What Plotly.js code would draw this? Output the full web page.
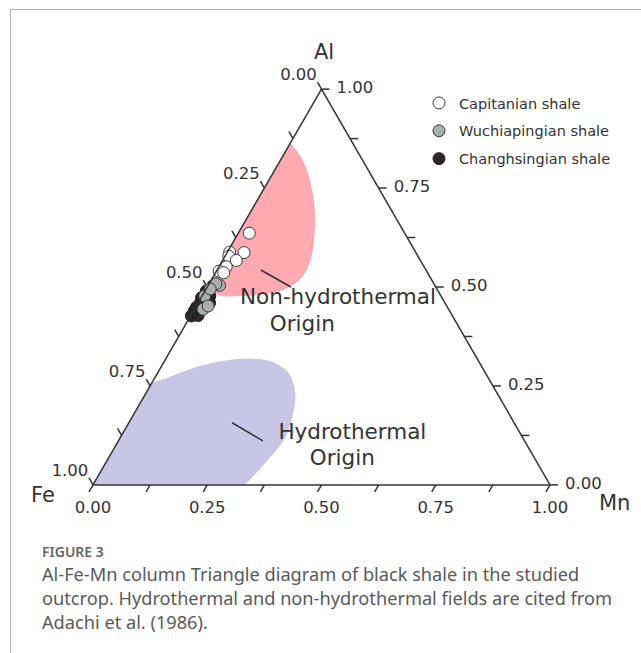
<!DOCTYPE html>
<html>
<head>
<meta charset="utf-8">
<script src="https://cdn.plot.ly/plotly-3.0.1.min.js"></script>
<style>
  html, body { margin: 0; padding: 0; background: #ffffff; }
  #chart { width: 641px; height: 653px; }
</style>
</head>
<body>
<div id="chart"></div>
<script>
// Al-Fe-Mn compositions (fractions) of the black shale samples
const capitanianAl = [0.636, 0.588, 0.578, 0.587, 0.567, 0.551, 0.540, 0.536];
const capitanianFe = [0.340, 0.407, 0.414, 0.376, 0.403, 0.433, 0.454, 0.446];
const capitanianMn = [0.024, 0.005, 0.008, 0.037, 0.030, 0.016, 0.006, 0.018];

const wuchiapingianAl = [0.504, 0.508, 0.477, 0.444, 0.452, 0.495];
const wuchiapingianFe = [0.471, 0.477, 0.517, 0.537, 0.522, 0.496];
const wuchiapingianMn = [0.025, 0.015, 0.006, 0.019, 0.026, 0.009];

const changhsingianAl = [0.503, 0.490, 0.477, 0.473, 0.456, 0.460, 0.439, 0.427, 0.428, 0.448, 0.467];
const changhsingianFe = [0.486, 0.507, 0.506, 0.526, 0.539, 0.515, 0.559, 0.571, 0.556, 0.550, 0.524];
const changhsingianMn = [0.011, 0.003, 0.017, 0.001, 0.005, 0.025, 0.002, 0.002, 0.016, 0.002, 0.009];

// Field outlines after Adachi et al. (1986)
const nonHydroAl = [0.864, 0.833, 0.796, 0.745, 0.682, 0.619, 0.563, 0.525, 0.498, 0.482, 0.477, 0.477, 0.487, 0.498];
const nonHydroFe = [0.136, 0.131, 0.134, 0.148, 0.173, 0.207, 0.244, 0.280, 0.324, 0.381, 0.440, 0.479, 0.496, 0.502];
const nonHydroMn = [0.000, 0.036, 0.070, 0.107, 0.145, 0.174, 0.193, 0.195, 0.178, 0.137, 0.083, 0.044, 0.017, 0.000];

const hydroAl = [0.000, 0.125, 0.253, 0.270, 0.293, 0.313, 0.319, 0.311, 0.285, 0.240, 0.189, 0.119, 0.058, 0.000];
const hydroFe = [1.000, 0.875, 0.747, 0.703, 0.641, 0.561, 0.497, 0.453, 0.431, 0.438, 0.466, 0.520, 0.592, 0.667];
const hydroMn = [0.000, 0.000, 0.000, 0.027, 0.066, 0.126, 0.184, 0.236, 0.284, 0.322, 0.345, 0.361, 0.350, 0.333];

// Leader lines and field names
const nonHydroLeaderAl = [0.543, 0.500];
const nonHydroLeaderFe = [0.361, 0.317];
const nonHydroLeaderMn = [0.096, 0.183];
const hydroLeaderAl = [0.157, 0.111];
const hydroLeaderFe = [0.617, 0.573];
const hydroLeaderMn = [0.226, 0.316];

const fieldLabels = ['Non-hydrothermal', 'Origin', 'Hydrothermal', 'Origin'];
const fieldLabelAl = [0.470, 0.402, 0.129, 0.063];
const fieldLabelFe = [0.229, 0.341, 0.368, 0.423];
const fieldLabelMn = [0.301, 0.257, 0.503, 0.514];

// Tick values along each edge (Fe on the left, Al on the right, Mn along the base)
const tickVals = [0, 0.125, 0.25, 0.375, 0.5, 0.625, 0.75, 0.875, 1];
const tickLabels = ['0.00', '', '0.25', '', '0.50', '', '0.75', '', '1.00'];

const FONT = 'DejaVu Sans, Arial, sans-serif';
const INK = '#333333';
const W = 641, H = 653;
const TICK_LEN = 8;
const px = v => v / W;
const py = v => 1 - v / H;

// Points on each edge where a tick value sits
const leftEdge = tickVals.map(v => ({ a: 1 - v, b: v, c: 0 }));     // Fe = v, Mn = 0
const rightEdge = tickVals.map(v => ({ a: v, b: 0, c: 1 - v }));    // Al = v, Fe = 0
const baseEdge = tickVals.map(v => ({ a: 0, b: 1 - v, c: v }));     // Mn = v, Al = 0

function tickTrace(pts, angle) {
  return {
    type: 'scatterternary', mode: 'markers',
    a: pts.map(p => p.a), b: pts.map(p => p.b), c: pts.map(p => p.c),
    marker: {
      symbol: 'line-ns', size: TICK_LEN / 1.4, angle: angle, standoff: TICK_LEN / 2,
      color: INK, line: { color: INK, width: 1.5 }
    },
    cliponaxis: false, showlegend: false, hoverinfo: 'skip'
  };
}

// Tick labels hang off an invisible marker on the edge; its size sets the label gap
function labelTrace(pts, gapSize, position) {
  return {
    type: 'scatterternary', mode: 'markers+text',
    a: pts.map(p => p.a), b: pts.map(p => p.b), c: pts.map(p => p.c),
    marker: { size: gapSize, color: 'rgba(0,0,0,0)', line: { width: 0 } },
    text: tickLabels, textposition: position,
    textfont: { family: FONT, size: 16.5, color: INK },
    cliponaxis: false, showlegend: false, hoverinfo: 'skip'
  };
}

const traces = [
  {
    type: 'scatterternary', mode: 'lines', name: 'Non-hydrothermal field',
    a: nonHydroAl, b: nonHydroFe, c: nonHydroMn,
    fill: 'toself', fillcolor: '#ffaab1',
    line: { width: 0, shape: 'spline', color: 'rgba(0,0,0,0)' },
    showlegend: false, hoverinfo: 'skip'
  },
  {
    type: 'scatterternary', mode: 'lines', name: 'Hydrothermal field',
    a: hydroAl, b: hydroFe, c: hydroMn,
    fill: 'toself', fillcolor: '#c9c5e4',
    line: { width: 0, shape: 'spline', color: 'rgba(0,0,0,0)' },
    showlegend: false, hoverinfo: 'skip'
  },
  {
    type: 'scatterternary', mode: 'lines',
    a: nonHydroLeaderAl, b: nonHydroLeaderFe, c: nonHydroLeaderMn,
    line: { color: INK, width: 1.5 }, showlegend: false, hoverinfo: 'skip'
  },
  {
    type: 'scatterternary', mode: 'lines',
    a: hydroLeaderAl, b: hydroLeaderFe, c: hydroLeaderMn,
    line: { color: INK, width: 1.5 }, showlegend: false, hoverinfo: 'skip'
  },
  {
    type: 'scatterternary', mode: 'text',
    a: fieldLabelAl, b: fieldLabelFe, c: fieldLabelMn,
    text: fieldLabels, textposition: 'middle center',
    textfont: { family: FONT, size: 21.5, color: INK },
    cliponaxis: false, showlegend: false, hoverinfo: 'skip'
  },
  // edge ticks: Fe ticks run parallel to the Al-Mn side, Al ticks are horizontal,
  // Mn ticks run parallel to the Al-Fe side
  tickTrace(leftEdge, 150),
  tickTrace(rightEdge, -90),
  tickTrace(baseEdge, 30),
  labelTrace(leftEdge, 5.8, 'top left'),
  labelTrace(rightEdge, 22.4, 'middle right'),
  labelTrace(baseEdge, 23.5, 'bottom center'),
  {
    type: 'scatterternary', mode: 'markers', name: 'Changhsingian shale',
    legendgroup: 'g3', legendrank: 3,
    a: changhsingianAl, b: changhsingianFe, c: changhsingianMn,
    marker: { size: 12, color: '#2b2627', line: { color: '#1e1b1c', width: 1 } },
    cliponaxis: false
  },
  {
    type: 'scatterternary', mode: 'markers', name: 'Wuchiapingian shale',
    legendgroup: 'g2', legendrank: 2,
    a: wuchiapingianAl, b: wuchiapingianFe, c: wuchiapingianMn,
    marker: { size: 12, color: '#a9aeae', line: { color: '#3a3a3a', width: 1 } },
    cliponaxis: false
  },
  {
    type: 'scatterternary', mode: 'markers', name: 'Capitanian shale',
    legendgroup: 'g1', legendrank: 1,
    a: capitanianAl, b: capitanianFe, c: capitanianMn,
    marker: { size: 12, color: '#ffffff', line: { color: '#3a3a3a', width: 1 } },
    cliponaxis: false
  }
];

function edgeAxis() {
  return {
    title: { text: '' },
    showgrid: false,
    showline: true, linecolor: INK, linewidth: 1.5,
    ticks: '', showticklabels: false,
    min: 0
  };
}

const captionFont = { family: 'Noto Sans, sans-serif', size: 18.2, color: '#595959' };
const titleFont = { family: FONT, size: 21, color: INK };

const layout = {
  width: W, height: H,
  margin: { l: 0, r: 0, t: 0, b: 0 },
  paper_bgcolor: '#ffffff',
  showlegend: true,
  ternary: {
    sum: 1,
    domain: { x: [px(93), px(550)], y: [py(485), py(89)] },
    bgcolor: 'rgba(0,0,0,0)',
    aaxis: edgeAxis(),
    baxis: edgeAxis(),
    caxis: edgeAxis()
  },
  legend: {
    x: px(419), y: py(87), xanchor: 'left', yanchor: 'top',
    traceorder: 'grouped', tracegroupgap: 6,
    bgcolor: 'rgba(0,0,0,0)',
    font: { family: FONT, size: 14.5, color: INK }
  },
  annotations: [
    { text: 'Al', x: px(324), y: py(52), xref: 'paper', yref: 'paper', xanchor: 'center', yanchor: 'middle', showarrow: false, font: titleFont },
    { text: 'Fe', x: px(43), y: py(495), xref: 'paper', yref: 'paper', xanchor: 'center', yanchor: 'middle', showarrow: false, font: titleFont },
    { text: 'Mn', x: px(614), y: py(503), xref: 'paper', yref: 'paper', xanchor: 'center', yanchor: 'middle', showarrow: false, font: titleFont },
    { text: 'FIGURE 3', x: px(40), y: py(551), xref: 'paper', yref: 'paper', xanchor: 'left', yanchor: 'middle', showarrow: false, font: { family: 'Noto Sans, sans-serif', size: 14, color: '#666666', weight: 600 } },
    { text: 'Al-Fe-Mn column Triangle diagram of black shale in the studied', x: px(40), y: py(574), xref: 'paper', yref: 'paper', xanchor: 'left', yanchor: 'middle', showarrow: false, font: captionFont },
    { text: 'outcrop. Hydrothermal and non-hydrothermal fields are cited from', x: px(40), y: py(598), xref: 'paper', yref: 'paper', xanchor: 'left', yanchor: 'middle', showarrow: false, font: captionFont },
    { text: 'Adachi et al. (1986).', x: px(40), y: py(622), xref: 'paper', yref: 'paper', xanchor: 'left', yanchor: 'middle', showarrow: false, font: captionFont }
  ],
  shapes: [
    { type: 'line', xref: 'paper', yref: 'paper', x0: px(10), x1: px(641), y0: py(9.5), y1: py(9.5), line: { color: '#b4b4b4', width: 1 } },
    { type: 'line', xref: 'paper', yref: 'paper', x0: px(10.5), x1: px(10.5), y0: py(9.5), y1: py(653), line: { color: '#b4b4b4', width: 1 } }
  ]
};

Plotly.newPlot('chart', traces, layout, { displayModeBar: false, staticPlot: true });
</script>
</body>
</html>
